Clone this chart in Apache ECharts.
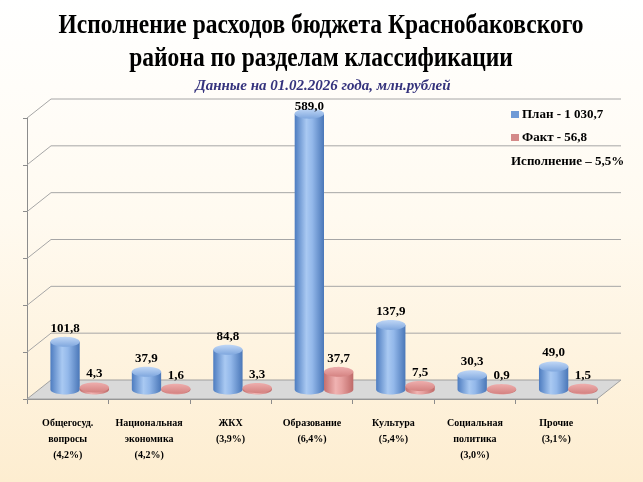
<!DOCTYPE html>
<html>
<head>
<meta charset="utf-8">
<script src="https://cdn.jsdelivr.net/npm/echarts@6/dist/echarts.min.js"></script>
<style>
html,body{margin:0;padding:0;}
body{background:linear-gradient(to bottom,#ffffff 0%,#fffaf0 45%,#fdedd0 100%);}
#chart{width:643px;height:482px;}
</style>
</head>
<body>
<div id="chart"></div>
<script>
const categories = ['Общегосуд.\nвопросы\n(4,2%)', 'Национальная\nэкономика\n(4,2%)', 'ЖКХ\n(3,9%)', 'Образование\n(6,4%)', 'Культура\n(5,4%)', 'Социальная\nполитика\n(3,0%)', 'Прочие\n(3,1%)'];
const planValues = [101.8, 37.9, 84.8, 589.0, 137.9, 30.3, 49.0];
const factValues = [4.3, 1.6, 3.3, 37.7, 7.5, 0.9, 1.5];
const yTicks = [0, 100, 200, 300, 400, 500, 600];
const planName = 'План - 1 030,7';
const factName = 'Факт - 56,8';
const execText = 'Исполнение – 5,5%';

const DX = 24, DY = 19;
const SERIF = '"Liberation Serif","Times New Roman",serif';

function fmt(v){ return v.toFixed(1).replace('.', ','); }

function ellipsePts(cx, cy, rx, ry, t0, t1, n){
  const pts = [];
  for (let k = 0; k <= n; k++){
    const t = t0 + (t1 - t0) * k / n;
    pts.push([cx + rx * Math.cos(t), cy + ry * Math.sin(t)]);
  }
  return pts;
}

function makeCyl(side, bodyStops, topStops){
  return function(params, api){
    const i = api.value(0), v = api.value(1);
    const band = api.size([1, 0])[0];
    const w = band * 0.36;
    const c = api.coord([i, v]);
    const b = api.coord([i, 0]);
    const cx = c[0] + DX / 2 + side * w / 2;
    const topY = c[1] - DY / 2;
    const baseY = b[1] - DY / 2;
    const rx = w / 2, ry = 5;
    const body = [[cx - rx, topY]].concat(ellipsePts(cx, baseY, rx, ry, Math.PI, 0, 24)).concat([[cx + rx, topY]]);
    const top = ellipsePts(cx, topY, rx, ry, 0, Math.PI * 2, 40);
    const labelY = Math.max(topY - ry - 2, params.coordSys.y - DY + 14);
    return {
      type: 'group',
      children: [
        {type: 'polygon', shape: {points: body},
         style: {fill: {type: 'linear', x: 0, y: 0, x2: 1, y2: 0, colorStops: bodyStops}, stroke: null}},
        {type: 'polygon', shape: {points: top},
         style: {fill: {type: 'linear', x: 0, y: 0, x2: 0, y2: 1, colorStops: topStops}, stroke: null}},
        {type: 'text', style: {text: fmt(v), x: cx, y: labelY, align: 'center', verticalAlign: 'bottom',
          fontSize: 13, fontWeight: 'bold', fontFamily: SERIF, fill: '#000'}}
      ]
    };
  };
}

const planBody = [{offset: 0, color: '#4d7cc0'}, {offset: 0.4, color: '#a9c9f2'}, {offset: 0.6, color: '#93b8ea'}, {offset: 1, color: '#4a77b8'}];
const planTop = [{offset: 0, color: '#c0d7f6'}, {offset: 1, color: '#7fa7de'}];
const factBody = [{offset: 0, color: '#c46f6e'}, {offset: 0.4, color: '#f0b3b2'}, {offset: 0.6, color: '#e6a09f'}, {offset: 1, color: '#bf6a69'}];
const factTop = [{offset: 0, color: '#eeaead'}, {offset: 1, color: '#d48281'}];

const chart = echarts.init(document.getElementById('chart'), null, {renderer: 'canvas'});
chart.setOption({
  backgroundColor: 'transparent',
  animation: false,
  grid: {left: 27, right: 46, top: 118, bottom: 83},
  xAxis: {
    type: 'category', data: categories,
    axisLine: {show: true, lineStyle: {color: '#8c8c8c'}},
    axisTick: {show: true, length: 5, lineStyle: {color: '#8c8c8c'}},
    axisLabel: {interval: 0, margin: 16, fontSize: 10, fontWeight: 'bold', fontFamily: SERIF, color: '#000', lineHeight: 16}
  },
  yAxis: {
    type: 'value', min: 0, max: 600, interval: 100,
    axisLine: {show: true, lineStyle: {color: '#8c8c8c'}},
    axisTick: {show: true, length: 4, lineStyle: {color: '#8c8c8c'}},
    axisLabel: {show: false},
    splitLine: {show: false}
  },
  legend: {
    orient: 'vertical', left: 511, top: 108, padding: 0, itemWidth: 8, itemHeight: 7, itemGap: 10,
    textStyle: {fontSize: 13, fontWeight: 'bold', fontFamily: SERIF, color: '#000', padding: [0, 0, 0, -2]},
    data: [{name: planName, icon: 'rect', itemStyle: {color: '#6f9ad6'}}, {name: factName, icon: 'rect', itemStyle: {color: '#d48a89'}}]
  },
  graphic: [
    {type: 'text', x: 321, y: 26, scaleX: 0.87, style: {text: 'Исполнение расходов бюджета Краснобаковского', x: 0, y: 0, align: 'center', verticalAlign: 'middle', fontSize: 27, fontWeight: 'bold', fontFamily: SERIF, fill: '#000'}},
    {type: 'text', x: 321, y: 59, scaleX: 0.87, style: {text: 'района по разделам классификации', x: 0, y: 0, align: 'center', verticalAlign: 'middle', fontSize: 27, fontWeight: 'bold', fontFamily: SERIF, fill: '#000'}},
    {type: 'text', x: 323, y: 86, style: {text: 'Данные на 01.02.2026 года, млн.рублей', x: 0, y: 0, align: 'center', verticalAlign: 'middle', fontSize: 15, fontWeight: 'bold', fontStyle: 'italic', fontFamily: SERIF, fill: '#35337d'}},
    {type: 'text', left: 511, top: 155, style: {text: execText, fontSize: 13, fontWeight: 'bold', fontFamily: SERIF, fill: '#000'}}
  ],
  series: [
    {
      type: 'custom', name: 'frame', silent: true, z: 1,
      data: yTicks.map(function(v){ return [0, v]; }),
      encode: {x: 0, y: 1},
      renderItem: function(params, api){
        const v = api.value(1);
        const cs = params.coordSys;
        const x0 = cs.x, x1 = cs.x + cs.width;
        const y = api.coord([0, v])[1];
        if (v === 0){
          return {type: 'polygon', shape: {points: [[x0, y], [x1, y], [x1 + DX, y - DY], [x0 + DX, y - DY]]},
            style: {fill: '#d9d9d9', stroke: '#a0a0a0', lineWidth: 1}};
        }
        return {type: 'polyline', shape: {points: [[x0, y], [x0 + DX, y - DY], [x1 + DX, y - DY]]},
          style: {fill: null, stroke: '#a6a6a6', lineWidth: 1}};
      }
    },
    {type: 'custom', name: planName, z: 3, itemStyle: {color: '#6f9ad6'},
     data: planValues.map(function(v, i){ return [i, v]; }), encode: {x: 0, y: 1},
     renderItem: makeCyl(-1, planBody, planTop)},
    {type: 'custom', name: factName, z: 4, itemStyle: {color: '#d48a89'},
     data: factValues.map(function(v, i){ return [i, v]; }), encode: {x: 0, y: 1},
     renderItem: makeCyl(1, factBody, factTop)}
  ]
});
</script>
</body>
</html>
